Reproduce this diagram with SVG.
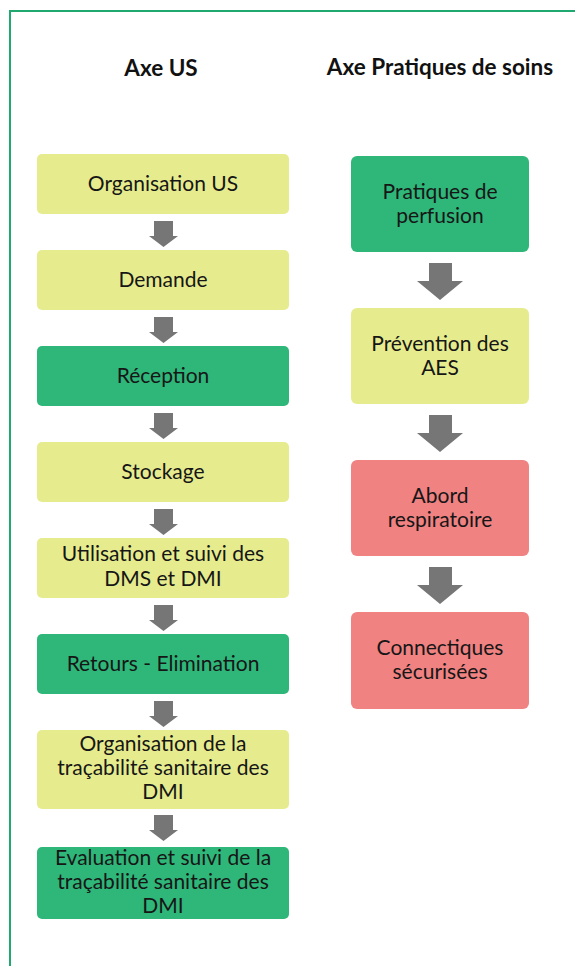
<svg xmlns="http://www.w3.org/2000/svg" width="575" height="966" viewBox="0 0 575 966">
<style>
.t{font-family:Lato,"Open Sans",sans-serif;font-size:21px;fill:#161616;text-anchor:middle}
.h{font-family:Lato,"Open Sans",sans-serif;font-size:22.5px;font-weight:bold;fill:#111;text-anchor:middle}
.y{fill:#e6ec8e}
.g{fill:#2fb77a}
.r{fill:#f08282}
.a{fill:#767676}
</style>
<rect width="575" height="966" fill="#ffffff"/>
<path d="M10,966 V11 H575" fill="none" stroke="#1fa870" stroke-width="2"/>
<text class="h" x="161" y="76">Axe US</text>
<text class="h" x="440" y="75">Axe Pratiques de soins</text>
<g id="connectors">
<path class="a" d="M154,221 H173 V236 H178 L163.5,247 L149,236 H154 Z"/>
<path class="a" d="M154,317 H173 V332 H178 L163.5,343 L149,332 H154 Z"/>
<path class="a" d="M154,413 H173 V428 H178 L163.5,439 L149,428 H154 Z"/>
<path class="a" d="M154,509 H173 V524 H178 L163.5,535 L149,524 H154 Z"/>
<path class="a" d="M154,605 H173 V620 H178 L163.5,631 L149,620 H154 Z"/>
<path class="a" d="M154,701 H173 V716 H178 L163.5,727 L149,716 H154 Z"/>
<path class="a" d="M154,815 H173 V830 H178 L163.5,841 L149,830 H154 Z"/>
<path class="a" d="M429,263 H452 V281 H463 L440,300 L417,281 H429 Z"/>
<path class="a" d="M429,415 H452 V433 H463 L440,452 L417,433 H429 Z"/>
<path class="a" d="M429,567 H452 V585 H463 L440,604 L417,585 H429 Z"/>
</g>
<g id="n1"><rect class="y" x="37" y="154" width="252" height="60" rx="5"/><text class="t" x="163" y="191">Organisation US</text></g>
<g id="n2"><rect class="y" x="37" y="250" width="252" height="60" rx="5"/><text class="t" x="163" y="287">Demande</text></g>
<g id="n3"><rect class="g" x="37" y="346" width="252" height="60" rx="5"/><text class="t" x="163" y="383">Réception</text></g>
<g id="n4"><rect class="y" x="37" y="442" width="252" height="60" rx="5"/><text class="t" x="163" y="479">Stockage</text></g>
<g id="n5"><rect class="y" x="37" y="538" width="252" height="60" rx="5"/><text class="t" x="163" y="561">Utilisation et suivi des</text><text class="t" x="163" y="586">DMS et DMI</text></g>
<g id="n6"><rect class="g" x="37" y="634" width="252" height="60" rx="5"/><text class="t" x="163" y="671">Retours - Elimination</text></g>
<g id="n7"><rect class="y" x="37" y="730" width="252" height="79" rx="5"/><text class="t" x="163" y="751">Organisation de la</text><text class="t" x="163" y="775">traçabilité sanitaire des</text><text class="t" x="163" y="799">DMI</text></g>
<g id="n8"><rect class="g" x="37" y="847" width="252" height="72" rx="5"/><text class="t" x="163" y="865">Evaluation et suivi de la</text><text class="t" x="163" y="889">traçabilité sanitaire des</text><text class="t" x="163" y="913">DMI</text></g>
<g id="r1"><rect class="g" x="351" y="156" width="178" height="96" rx="6"/><text class="t" x="440" y="199">Pratiques de</text><text class="t" x="440" y="223">perfusion</text></g>
<g id="r2"><rect class="y" x="351" y="308" width="178" height="96" rx="6"/><text class="t" x="440" y="351">Prévention des</text><text class="t" x="440" y="375">AES</text></g>
<g id="r3"><rect class="r" x="351" y="460" width="178" height="96" rx="6"/><text class="t" x="440" y="503">Abord</text><text class="t" x="440" y="527">respiratoire</text></g>
<g id="r4"><rect class="r" x="351" y="612" width="178" height="97" rx="6"/><text class="t" x="440" y="655">Connectiques</text><text class="t" x="440" y="679">sécurisées</text></g>
</svg>
